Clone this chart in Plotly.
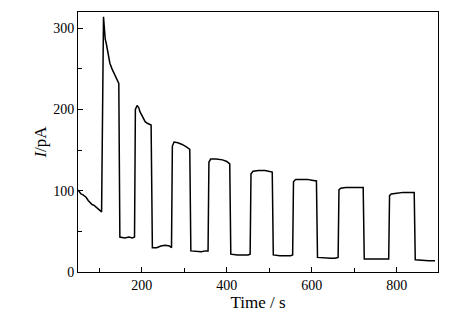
import plotly.graph_objects as go

time_s = [50, 57, 62, 69, 74, 79, 83, 88, 92, 97, 102, 105.5,
          110, 112, 114, 117, 121, 125, 130, 134, 139, 144, 146,
          148.5, 160, 170, 178, 183,
          185, 189, 193, 196, 203, 208, 213, 218, 222,
          225, 235, 245, 255, 265, 270,
          272, 276, 285, 295, 305, 313,
          315.5, 330, 340, 350, 356,
          358, 362, 375, 390, 400, 407,
          409.5, 425, 440, 450, 455,
          457, 462, 475, 490, 500, 507,
          509.5, 525, 540, 550, 555,
          557, 562, 575, 590, 600, 611,
          613.5, 630, 645, 655, 662,
          664, 668, 680, 695, 710, 721,
          723.5, 740, 755, 770, 781,
          783, 787, 800, 815, 830, 841,
          843.5, 860, 875, 890]
current_pA = [101, 96, 95, 92, 88, 85, 83, 82, 80, 78, 76, 74,
              314, 300, 287, 280, 269, 257, 250, 245, 240, 234, 232,
              43, 42, 43, 42, 43,
              200, 205, 202, 197, 189, 185, 183, 182, 181,
              30, 30, 32, 33, 32, 30,
              155, 160, 159, 157, 154, 151,
              26, 25, 25, 26, 26,
              135, 139, 139, 138, 136, 133,
              22, 21, 21, 21, 22,
              121, 124, 125, 125, 124, 123,
              21, 20, 20, 20, 21,
              111, 114, 114, 114, 113, 112,
              18, 17, 17, 17, 18,
              101, 103, 104, 104, 104, 104,
              16, 16, 16, 16, 16,
              94, 96, 97, 98, 98, 98,
              15, 14, 14, 14]

x_ticks = [200, 400, 600, 800]
y_ticks = [0, 100, 200, 300]

fig = go.Figure()
fig.add_trace(go.Scatter(x=time_s, y=current_pA, mode="lines",
                         line=dict(color="black", width=1.5),
                         showlegend=False))

font = dict(family="Liberation Serif, Times New Roman, serif", size=14, color="black")
fig.update_layout(
    width=473, height=325,
    margin=dict(l=70, r=43, t=4, b=61, autoexpand=False),
    paper_bgcolor="white", plot_bgcolor="white",
    font=font,
)
fig.update_xaxes(
    range=[50, 897], tickvals=x_ticks, ticks="inside", ticklen=5, tickwidth=1,
    tickcolor="black", showline=True, linecolor="black", linewidth=1, mirror=True,
    showgrid=False, zeroline=False, automargin=False,
    minor=dict(tickvals=[100, 300, 500, 700], ticks="inside", ticklen=4, tickcolor="black"),
    title=dict(text="Time / s", standoff=1),
)
fig.update_yaxes(
    range=[0, 320], tickvals=y_ticks, ticks="inside", ticklen=5, tickwidth=1,
    tickcolor="black", showline=True, linecolor="black", linewidth=1, mirror=True,
    showgrid=False, zeroline=False, automargin=False,
    minor=dict(tickvals=[50, 150, 250], ticks="inside", ticklen=4, tickcolor="black"),
    title=dict(text="<i>I</i>/pA", standoff=2),
)
fig.write_html("out.html")
